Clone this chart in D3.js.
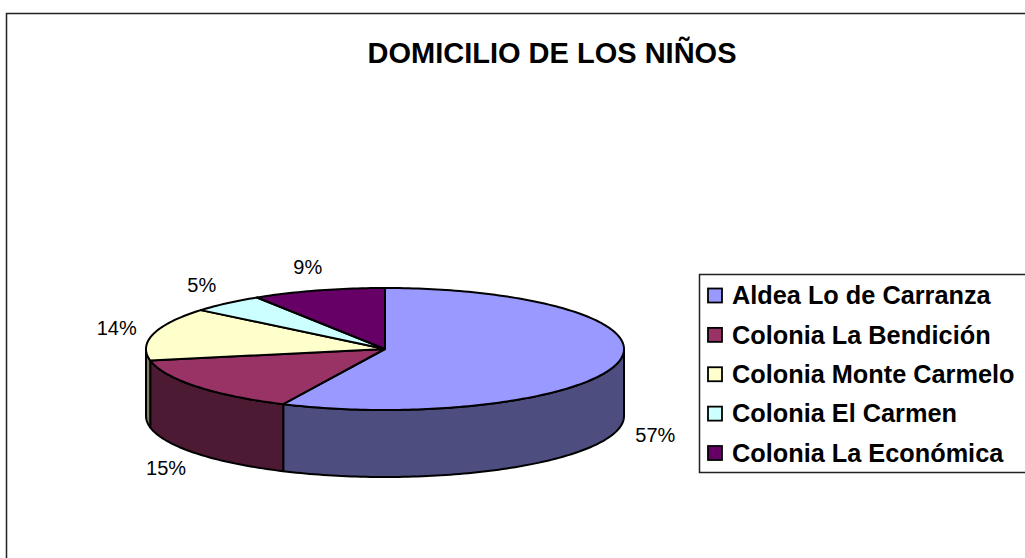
<!DOCTYPE html>
<html>
<head>
<meta charset="utf-8">
<script src="https://cdn.jsdelivr.net/npm/d3@7"></script>
<style>
  body { margin: 0; background: #fff; }
  svg { display: block; font-family: Arial, "Liberation Sans", sans-serif; }
</style>
</head>
<body>
<div id="chart"></div>
<script>
// data
const categories = [
  "Aldea Lo de Carranza",
  "Colonia La Bendición",
  "Colonia Monte Carmelo",
  "Colonia El Carmen",
  "Colonia La Económica",
];
const values = [57, 15, 14, 5, 9];
const labels = ["57%", "15%", "14%", "5%", "9%"];
const title = "DOMICILIO DE LOS NIÑOS";

const topColors = ["#9999FF", "#993366", "#FFFFCC", "#CCFFFF", "#660066"];

const width = 1025;
const height = 558;

const color = d3.scaleOrdinal().domain(categories).range(topColors);
const sideColor = (c) => {
  const h = d3.rgb(color(c));
  return d3.rgb(h.r / 2, h.g / 2, h.b / 2).formatHex();
};

const svg = d3
  .select("#chart")
  .append("svg")
  .attr("width", width)
  .attr("height", height);

svg.append("rect").attr("width", width).attr("height", height).attr("fill", "#fff");

// outer frame
svg
  .append("rect")
  .attr("x", 6.5)
  .attr("y", 13.5)
  .attr("width", width + 20)
  .attr("height", height + 20)
  .attr("fill", "none")
  .attr("stroke", "#222")
  .attr("stroke-width", 1.5);

svg
  .append("text")
  .attr("x", 552)
  .attr("y", 63)
  .attr("text-anchor", "middle")
  .attr("font-size", 29)
  .attr("font-weight", "bold")
  .text(title);

/********* 3d pie *********/
const pie3d = { cx: 385, cy: 349, rx: 239, ry: 61, depth: 67 };

const pt = (a, dy = 0) => [
  pie3d.cx + pie3d.rx * Math.sin(a),
  pie3d.cy - pie3d.ry * Math.cos(a) + dy,
];
const arcPoints = (a0, a1, dy = 0) => {
  const n = Math.max(2, Math.ceil(Math.abs(a1 - a0) / 0.02));
  return d3.range(n + 1).map((i) => pt(a0 + ((a1 - a0) * i) / n, dy));
};

const arcs = d3
  .pie()
  .sort(null)
  .value((d) => d.value)(categories.map((c, i) => ({ cat: c, value: values[i], label: labels[i] })));

const line = d3.line();

// side walls (front half only)
const sides = svg.append("g").attr("stroke", "#000").attr("stroke-width", 2).attr("stroke-linejoin", "round");
arcs.forEach((d) => {
  const s0 = Math.max(d.startAngle, Math.PI / 2);
  const s1 = Math.min(d.endAngle, (3 * Math.PI) / 2);
  if (s0 >= s1) return;
  const pts = [...arcPoints(s0, s1), ...arcPoints(s1, s0, pie3d.depth)];
  sides
    .append("path")
    .attr("d", line(pts) + "Z")
    .attr("fill", sideColor(d.data.cat));
});

// top faces
const tops = svg.append("g").attr("stroke", "#000").attr("stroke-width", 2).attr("stroke-linejoin", "round");
arcs.forEach((d) => {
  const pts = [[pie3d.cx, pie3d.cy], ...arcPoints(d.startAngle, d.endAngle)];
  tops
    .append("path")
    .attr("d", line(pts) + "Z")
    .attr("fill", color(d.data.cat));
});

// percentage labels
svg
  .append("g")
  .attr("font-size", 20)
  .attr("text-anchor", "middle")
  .selectAll("text")
  .data(arcs)
  .join("text")
  .attr("x", (d) => {
    const a = (d.startAngle + d.endAngle) / 2;
    return pie3d.cx + (pie3d.rx + 38) * Math.sin(a);
  })
  .attr("y", (d) => {
    const a = (d.startAngle + d.endAngle) / 2;
    const down = Math.cos(a) < 0 ? pie3d.depth : 0;
    return pie3d.cy - (pie3d.ry + 24) * Math.cos(a) + down;
  })
  .attr("dy", "0.35em")
  .text((d) => d.data.label);

/********* legend *********/
const legend = svg.append("g");
legend
  .append("rect")
  .attr("x", 699.5)
  .attr("y", 274.5)
  .attr("width", 340)
  .attr("height", 198)
  .attr("fill", "#fff")
  .attr("stroke", "#222")
  .attr("stroke-width", 1.5);

const rowY = d3.scalePoint().domain(categories).range([295.5, 453]);

const row = legend
  .selectAll("g.row")
  .data(categories)
  .join("g")
  .attr("class", "row")
  .attr("transform", (d) => `translate(0,${rowY(d)})`);

row
  .append("rect")
  .attr("x", 708)
  .attr("y", -7)
  .attr("width", 14)
  .attr("height", 14)
  .attr("fill", (d) => color(d))
  .attr("stroke", "#000")
  .attr("stroke-width", 1.8);

row
  .append("text")
  .attr("x", 732)
  .attr("dy", "0.35em")
  .attr("font-size", 25.3)
  .attr("font-weight", "bold")
  .text((d) => d);
</script>
</body>
</html>
